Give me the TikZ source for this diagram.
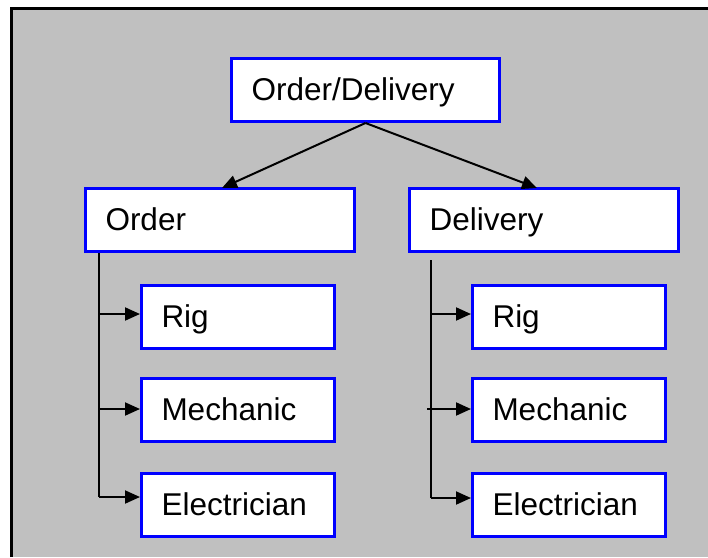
\documentclass[tikz,border=0pt]{standalone}
\usepackage{fontspec}
\setmainfont{Liberation Sans}
\usetikzlibrary{arrows.meta}
\definecolor{panelgray}{HTML}{C0C0C0}
\definecolor{boxblue}{HTML}{0000FF}
\begin{document}
\begin{tikzpicture}[x=1pt,y=-1pt,
  box/.style={draw=boxblue, line width=3pt, fill=white, minimum height=63pt,
    inner xsep=20pt, inner ysep=0pt, align=left, text height=21pt, text depth=0pt,
    font=\fontsize{31.5}{38}\selectfont},
  widebox/.style={box, text width=229pt},
  smallbox/.style={box, text width=153pt},
  link/.style={line width=2pt, draw=black},
  arr/.style={link, -{Triangle[length=15pt,width=13pt]}}]
\useasboundingbox (0,0) rectangle (708,557);

% panel background with its top and left rule
\fill[panelgray] (11.5,8.7) rectangle (708,557);
\draw[line width=2.5pt] (11.5,557) -- (11.5,8.7) -- (708,8.7);

% boxes
\node[box, text width=228pt] (top) at (365.5,90) {Order/Delivery};
\node[widebox] (order) at (220,220) {Order};
\node[widebox] (delivery) at (544,220) {Delivery};

\node[smallbox] (orig)  at (238,317) {Rig};
\node[smallbox] (omech) at (238,410) {Mechanic};
\node[smallbox] (oelec) at (238,505) {Electrician};

\node[smallbox] (drig)  at (569,317) {Rig};
\node[smallbox] (dmech) at (569,410) {Mechanic};
\node[smallbox] (delec) at (569,505) {Electrician};

% top level split
\draw[arr] (top.south) -- ([xshift=2pt,yshift=-1pt]order.north);
\draw[arr] (top.south) -- ([xshift=-7pt,yshift=-1pt]delivery.north);

% left branch
\coordinate (lj1) at (99,314);
\coordinate (lj2) at (99,409);
\coordinate (lj3) at (99,497);
\draw[link] (order.south -| lj1) -- (lj3);
\draw[arr] (lj1) -- (orig.west |- lj1);
\draw[arr] (lj2) -- (omech.west |- lj2);
\draw[arr] (lj3) -- (oelec.west |- lj3);

% right branch
\coordinate (rtop) at (431,260);
\coordinate (rj1) at (431,314);
\coordinate (rj2) at (427,409);
\coordinate (rj3) at (431,498);
\draw[link] (rtop) -- (rj3);
\draw[arr] (rj1) -- (drig.west |- rj1);
\draw[arr] (rj2) -- (dmech.west |- rj2);
\draw[arr] (rj3) -- (delec.west |- rj3);
\end{tikzpicture}
\end{document}
